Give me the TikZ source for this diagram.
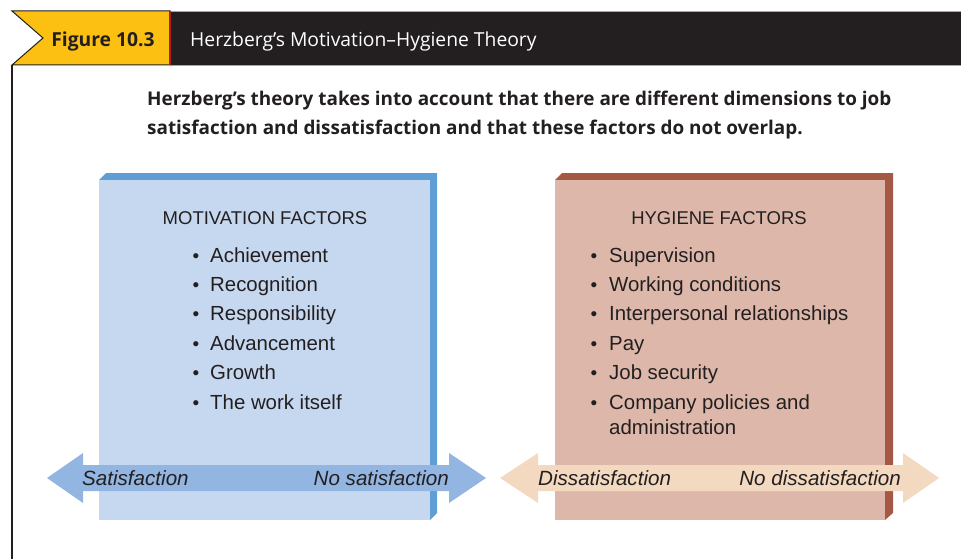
\documentclass[tikz,border=0pt]{standalone}
\usepackage{fontspec}
\setmainfont{Liberation Sans}
\newfontfamily\headfont{Open Sans}
\definecolor{flagyellow}{HTML}{FCC013}
\definecolor{barblack}{HTML}{231F20}
\definecolor{barred}{HTML}{B01E23}
\definecolor{blueface}{HTML}{C6D8EF}
\definecolor{blueside}{HTML}{5F9DD5}
\definecolor{bluearrow}{HTML}{93B5E1}
\definecolor{redface}{HTML}{DDB8AA}
\definecolor{redside}{HTML}{A55843}
\definecolor{peacharrow}{HTML}{F4D9C1}
\definecolor{txt}{HTML}{231F20}
\begin{document}
\begin{tikzpicture}[x=1pt,y=-1pt,
  bodytext/.style={inner sep=0pt,anchor=base west,text=txt,font=\fontsize{20.4}{24}\selectfont},
  headtext/.style={inner sep=0pt,anchor=base,text=txt,font=\fontsize{18.5}{22}\selectfont},
  labeltext/.style={inner sep=0pt,text=txt,font=\fontsize{20.6}{24}\selectfont\itshape},
  bul/.style={inner sep=0pt,anchor=base,text=txt,font=\fontsize{19}{22}\selectfont},
  subtext/.style={inner sep=0pt,anchor=base west,text=txt,font=\headfont\bfseries\fontsize{18.9}{22}\selectfont}]
\useasboundingbox (0,0) rectangle (961,559);
% header
\fill[barblack] (170,11) rectangle (961,65);
\draw[gray!70,line width=0.8pt] (170,11) -- (961,11);
\draw[gray!70,line width=0.8pt] (170,65) -- (961,65);
\filldraw[fill=flagyellow,draw=barblack,line width=1pt] (12,11) -- (170,11) -- (170,65) -- (12,65) -- (43,38) -- cycle;
\draw[barred,line width=1.5pt] (170,11) -- (170,65);
\draw[barblack,line width=1.2pt] (12,65) -- (12,559);
\node[inner sep=0pt,anchor=base,text=txt,font=\headfont\bfseries\fontsize{19.3}{22}\selectfont] (fig) at (103,47) {Figure 10.3};
\node[inner sep=0pt,anchor=base west,text=white,font=\headfont\fontsize{19.3}{22}\selectfont] (title) at (190,47) {Herzberg’s Motivation–Hygiene Theory};
% subtitle
\node[subtext] (sub1) at (147,106) {Herzberg’s theory takes into account that there are different dimensions to job};
\node[subtext] (sub2) at (147,135) {satisfaction and dissatisfaction and that these factors do not overlap.};
% left box
\fill[blueside] (99,180) -- (106,173) -- (437,173) -- (437,513) -- (430,520) -- (430,180) -- cycle;
\fill[blueface] (99,180) rectangle (430,520);
% right box
\fill[redside] (555,180) -- (562,173) -- (893,173) -- (893,513) -- (885,520) -- (885,180) -- cycle;
\fill[redface] (555,180) rectangle (885,520);
% arrows
\fill[bluearrow] (47,478) -- (83,453) -- (83,465) -- (449,465) -- (449,453) -- (486,478) -- (449,503) -- (449,491) -- (83,491) -- (83,503) -- cycle;
\fill[peacharrow] (500,478) -- (538,453) -- (538,465) -- (903,465) -- (903,453) -- (939,478) -- (903,503) -- (903,491) -- (538,491) -- (538,503) -- cycle;
\node[labeltext,anchor=base west] (sat) at (82,485) {Satisfaction};
\node[labeltext,anchor=base east] (nosat) at (449,485) {No satisfaction};
\node[labeltext,anchor=base west] (dis) at (538,485) {Dissatisfaction};
\node[labeltext,anchor=base east] (nodis) at (901,485) {No dissatisfaction};
% left text
\node[headtext] (mh) at (265,224) {MOTIVATION FACTORS};
\foreach \t/\y/\n in {Achievement/262/1,Recognition/291.4/2,Responsibility/320.8/3,Advancement/350.2/4,Growth/379.6/5,The work itself/409/6}{
  \node[bul] (mb\n) at (196,\y) {•};
  \node[bodytext] (mt\n) at (210,\y) {\t};
}
% right text
\node[headtext] (hh) at (719,224) {HYGIENE FACTORS};
\foreach \t/\y/\n in {Supervision/262/1,Working conditions/291.4/2,Interpersonal relationships/320.8/3,Pay/350.2/4,Job security/379.6/5,Company policies and/409/6}{
  \node[bul] (hb\n) at (594,\y) {•};
  \node[bodytext] (ht\n) at (609,\y) {\t};
}
\node[bodytext] (ht7) at (609,434) {administration};
\end{tikzpicture}
\end{document}
